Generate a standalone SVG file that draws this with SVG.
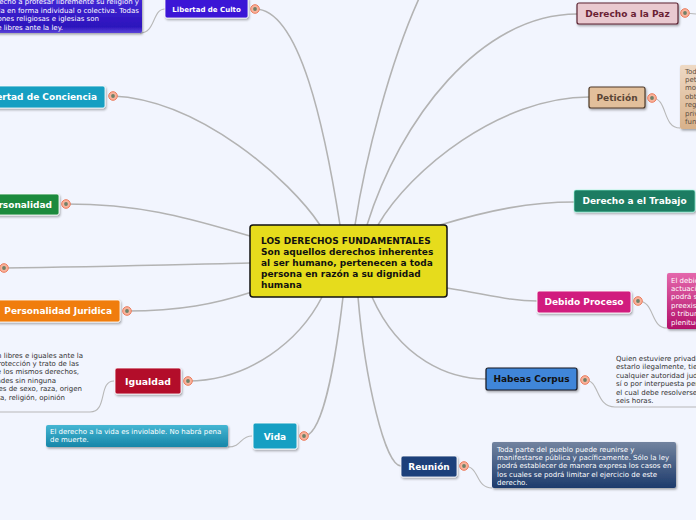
<svg xmlns="http://www.w3.org/2000/svg" width="696" height="520" viewBox="0 0 696 520">
<defs>
<filter id="sh" x="-10%" y="-20%" width="130%" height="160%"><feDropShadow dx="1" dy="1.5" stdDeviation="0.9" flood-color="#000" flood-opacity="0.35"/></filter>
<linearGradient id="gCulto" x1="0" y1="0" x2="0" y2="1"><stop offset="0" stop-color="#4a2ede"/><stop offset="0.85" stop-color="#2c12bc"/><stop offset="1" stop-color="#5a44d8"/></linearGradient>
<linearGradient id="gVida" x1="0" y1="0" x2="0" y2="1"><stop offset="0" stop-color="#45b6d3"/><stop offset="1" stop-color="#1786a8"/></linearGradient>
<linearGradient id="gReu" x1="0" y1="0" x2="0" y2="1"><stop offset="0" stop-color="#72839f"/><stop offset="1" stop-color="#1d3b6c"/></linearGradient>
<linearGradient id="gDeb" x1="0" y1="0" x2="0" y2="1"><stop offset="0" stop-color="#e468ac"/><stop offset="1" stop-color="#b3106a"/></linearGradient>
<linearGradient id="gPet" x1="0" y1="0" x2="0" y2="1"><stop offset="0" stop-color="#eed9c4"/><stop offset="1" stop-color="#d8b18a"/></linearGradient>
<g id="port"><circle r="4.3" fill="#f8b39c" stroke="#ec7b5c" stroke-width="1"/><circle r="1.9" fill="#6f8068"/></g>
</defs>
<style>
.bg{fill:#f2f5fe}
.main{fill:none;stroke:#b3b3b3;stroke-width:1.6}
.sub{fill:none;stroke:#b8b8b8;stroke-width:1.1}
.box{filter:url(#sh)}
.lbl{font-family:"DejaVu Sans",Verdana,sans-serif;font-weight:bold;font-size:9px;fill:#fff;text-anchor:middle}
.note{font-family:"DejaVu Sans",Verdana,sans-serif;font-size:7px;fill:#fff}
.dark{fill:#333}
.ctr{font-family:"DejaVu Sans",Verdana,sans-serif;font-weight:bold;font-size:9px;fill:#111}
</style>
<rect class="bg" x="0" y="0" width="696" height="520"/>

<g id="connectors">
<path class="main" d="M255,9 C300,9 325,130 340,225"/>
<path class="main" d="M113,96 C200,100 290,180 320,225"/>
<path class="main" d="M66,204 C150,204 200,222 250,236"/>
<path class="main" d="M4,268 C100,267 200,264 250,263"/>
<path class="main" d="M127,311 C180,311 215,304 252,292"/>
<path class="main" d="M188,381 C250,381 300,340 322,297"/>
<path class="main" d="M304,436 C325,436 338,340 343,297"/>
<path class="main" d="M358,297 C365,380 385,466 401,466"/>
<path class="main" d="M372,297 C400,360 450,379 486,379"/>
<path class="main" d="M447,288 C490,295 510,301 537,301"/>
<path class="main" d="M440,225 C490,210 530,202 574,202"/>
<path class="main" d="M378,225 C410,170 500,97 589,97"/>
<path class="main" d="M367,225 C400,120 480,14 577,14"/>
<path class="main" d="M355,225 C365,160 390,60 422,-8"/>
<path class="sub" d="M165,9 C152,9 156,33 140,33"/>
<path class="sub" d="M114,381 C98,381 108,412 90,412 L0,412"/>
<path class="sub" d="M252,436 C240,436 242,447 228,447"/>
<path class="sub" d="M464,466 C480,466 475,488 492,488"/>
<path class="sub" d="M585,380 C600,380 595,407 615,407 L696,407"/>
<path class="sub" d="M638,301 C655,301 650,328 667,328"/>
<path class="sub" d="M652,98 C668,98 662,128 680,128"/>
<path class="sub" d="M685,13 L696,14"/>
</g>

<g id="center">
<rect x="250" y="225" width="197" height="72" rx="3" fill="#e6dc1c" stroke="#111" stroke-width="1.5"/>
<text class="ctr" x="261" y="243.5">LOS DERECHOS FUNDAMENTALES</text>
<text class="ctr" x="261" y="254.5">Son aquellos derechos inherentes</text>
<text class="ctr" x="261" y="265.5">al ser humano, pertenecen a toda</text>
<text class="ctr" x="261" y="276.5">persona en razón a su dignidad</text>
<text class="ctr" x="261" y="287.5">humana</text>
</g>

<g id="libertad-culto">
<rect class="box" x="-50" y="-10" width="192" height="43" rx="2" fill="url(#gCulto)"/>
<g class="note" text-anchor="end">
<text x="139" y="4.3">derecho a profesar libremente su religión y</text>
<text x="139" y="12.7">a difundirla en forma individual o colectiva. Todas</text>
<text x="99" y="21.1">las confesiones religiosas e iglesias son</text>
<text x="63" y="29.5">igualmente libres ante la ley.</text>
</g>
<rect class="box" x="165" y="-3" width="83" height="21" rx="2" fill="#3a12d6" stroke="#fff" stroke-opacity="0.8"/>
<text class="lbl" x="206.5" y="11.5" style="font-size:7px">Libertad de Culto</text>
<use href="#port" x="255" y="9"/>
</g>

<g id="libertad-conciencia">
<rect class="box" x="-30" y="86" width="135" height="22" rx="2" fill="#159fc2" stroke="#fff" stroke-opacity="0.8"/>
<text class="lbl" x="97" y="100.2" text-anchor="end" style="text-anchor:end">Libertad de Conciencia</text>
<use href="#port" x="113" y="96"/>
</g>

<g id="personalidad">
<rect class="box" x="-150" y="194" width="209" height="21" rx="2" fill="#1b8a3c" stroke="#fff" stroke-opacity="0.8"/>
<text class="lbl" x="52" y="207.7" style="text-anchor:end">Libre Desarrollo de la Personalidad</text>
<use href="#port" x="66" y="204"/>
</g>

<g id="nodo-oculto">
<use href="#port" x="4" y="268"/>
</g>

<g id="personalidad-juridica">
<rect class="box" x="-5" y="300" width="125" height="22" rx="2" fill="#f07d0e" stroke="#fff" stroke-opacity="0.8"/>
<text class="lbl" x="112" y="314.2" style="text-anchor:end">Personalidad Juridica</text>
<use href="#port" x="127" y="311"/>
</g>

<g id="igualdad">
<g class="note dark" text-anchor="end">
<text x="83" y="357.5">Todas las personas nacen libres e iguales ante la</text>
<text x="79" y="366">ley, recibirán la misma protección y trato de las</text>
<text x="79" y="374.4">autoridades y gozarán de los mismos derechos,</text>
<text x="56" y="382.8">libertades y oportunidades sin ninguna</text>
<text x="82" y="391.2">discriminación por razones de sexo, raza, origen</text>
<text x="65" y="399.6">nacional o familiar, lengua, religión, opinión</text>
</g>
<rect class="box" x="115" y="368" width="66" height="26" rx="2" fill="#b30d2c" stroke="#fff" stroke-opacity="0.8"/>
<text class="lbl" x="148" y="384.5" style="font-size:9.3px">Igualdad</text>
<use href="#port" x="188" y="381"/>
</g>

<g id="vida">
<rect class="box" x="46" y="425" width="182" height="22" rx="2" fill="url(#gVida)"/>
<text class="note" x="50" y="434">El derecho a la vida es inviolable. No habrá pena</text>
<text class="note" x="50" y="442.3">de muerte.</text>
<rect class="box" x="253" y="423" width="44" height="26" rx="2" fill="#179fc3" stroke="#fff" stroke-opacity="0.9"/>
<text class="lbl" x="275" y="439.5">Vida</text>
<use href="#port" x="304" y="436"/>
</g>

<g id="reunion">
<rect class="box" x="401" y="456" width="56" height="21" rx="2" fill="#1b3f7a" stroke="#fff" stroke-opacity="0.8"/>
<text class="lbl" x="429" y="469.7">Reunión</text>
<use href="#port" x="464" y="466"/>
<rect class="box" x="492" y="442" width="184" height="46" rx="2" fill="url(#gReu)"/>
<g class="note">
<text x="497" y="451.5">Toda parte del pueblo puede reunirse y</text>
<text x="497" y="459.9">manifestarse pública y pacíficamente. Sólo la ley</text>
<text x="497" y="468.3">podrá establecer de manera expresa los casos en</text>
<text x="497" y="476.7">los cuales se podrá limitar el ejercicio de este</text>
<text x="497" y="485.1">derecho.</text>
</g>
</g>

<g id="habeas-corpus">
<rect class="box" x="486" y="368" width="91" height="22" rx="2" fill="#3f86d9" stroke="#1a1a22" stroke-width="1.2"/>
<text class="lbl" x="531.5" y="382.3" style="fill:#111">Habeas Corpus</text>
<use href="#port" x="585" y="380"/>
<g class="note dark">
<text x="616" y="361">Quien estuviere privado de su libertad, y creyere</text>
<text x="616" y="369.4">estarlo ilegalmente, tiene derecho a invocar ante</text>
<text x="616" y="377.8">cualquier autoridad judicial, en todo tiempo, por</text>
<text x="616" y="386.2">sí o por interpuesta persona, el Habeas Corpus,</text>
<text x="616" y="394.6">el cual debe resolverse en el término de treinta y</text>
<text x="616" y="403">seis horas.</text>
</g>
</g>

<g id="debido-proceso">
<rect class="box" x="537" y="291" width="94" height="22" rx="2" fill="#d11d7e" stroke="#fff" stroke-opacity="0.9"/>
<text class="lbl" x="584" y="305.2">Debido Proceso</text>
<use href="#port" x="638" y="301"/>
<rect class="box" x="667" y="273" width="190" height="56" rx="2" fill="url(#gDeb)"/>
<g class="note">
<text x="671" y="282.5">El debido proceso se aplicará a toda clase de</text>
<text x="671" y="291">actuaciones judiciales y administrativas. Nadie</text>
<text x="671" y="299.3">podrá ser juzgado sino conforme a leyes</text>
<text x="671" y="307.7">preexistentes al acto que se le imputa, ante juez</text>
<text x="671" y="316">o tribunal competente y con observancia de la</text>
<text x="671" y="324.5">plenitud de las formas propias de cada juicio.</text>
</g>
</g>

<g id="trabajo">
<rect class="box" x="574" y="190" width="121" height="22" rx="2" fill="#1c7b62" stroke="#9fd" stroke-opacity="0.6"/>
<text class="lbl" x="634.5" y="204.2">Derecho a el Trabajo</text>
</g>

<g id="peticion">
<rect class="box" x="589" y="87" width="56" height="21" rx="2" fill="#e2bf9b" stroke="#4e3a2a" stroke-width="1.2"/>
<text class="lbl" x="617" y="100.7" style="fill:#5a4535">Petición</text>
<use href="#port" x="652" y="98"/>
<rect class="box" x="680" y="65" width="190" height="64" rx="2" fill="url(#gPet)"/>
<g class="note" style="fill:#5f4e40">
<text x="685" y="73.5">Toda persona tiene derecho a presentar</text>
<text x="685" y="82">peticiones respetuosas a las autoridades por</text>
<text x="685" y="90.4">motivos de interés general o particular y a</text>
<text x="685" y="98.8">obtener pronta resolución. El legislador podrá</text>
<text x="685" y="107.2">reglamentar su ejercicio ante organizaciones</text>
<text x="685" y="115.6">privadas para garantizar los derechos</text>
<text x="685" y="124">fundamentales.</text>
</g>
</g>

<g id="paz">
<rect class="box" x="577" y="3" width="101" height="21" rx="2" fill="#e9c9d0" stroke="#5c2433" stroke-width="1.2"/>
<text class="lbl" x="627.5" y="16.7" style="fill:#6a1f35">Derecho a la Paz</text>
<use href="#port" x="685" y="13"/>
</g>
</svg>
